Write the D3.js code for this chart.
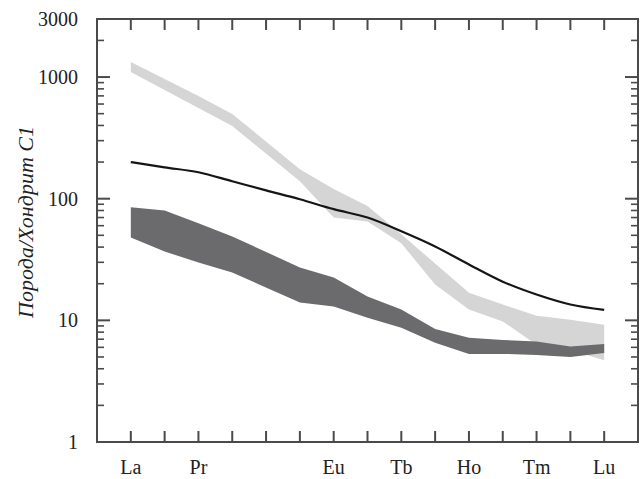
<!DOCTYPE html>
<html>
<head>
<meta charset="utf-8">
<script src="https://cdn.jsdelivr.net/npm/d3@7"></script>
<style>
  body { margin: 0; background: #fff; }
  svg text { font-family: "Liberation Serif", "DejaVu Serif", serif; fill: #222; }
</style>
</head>
<body>
<div id="chart"></div>
<script>
//  data
var elements = ["La", "Ce", "Pr", "Nd", "Pm", "Sm", "Eu", "Gd", "Tb", "Dy", "Ho", "Er", "Tm", "Yb", "Lu"];
var labeled = ["La", "Pr", "Eu", "Tb", "Ho", "Tm", "Lu"];
var yTicks = [1, 10, 100, 1000, 3000];

// light band (null = not analysed)
var lightHi = [1331, 964, 699, 497, null, 175, 120, 87, 51, 29.3, 16.9, 13.5, 10.9, 10.1, 9.2];
var lightLo = [1102, 783, 556, 395, null, 139, 70, 65, 43, 19.7, 12.3, 9.8, 6.3, 5.7, 4.7];
// dark band
var darkHi = [85, 80, 62.7, 49, null, 27.2, 22.5, 15.7, 12.3, 8.5, 7.2, 6.9, 6.7, 6.1, 6.4];
var darkLo = [48, 36.8, 29.9, 24.7, null, 14.0, 13.0, 10.5, 8.7, 6.55, 5.3, 5.3, 5.2, 5.0, 5.4];
// black curve
var lineVals = [200, 181, 165, 139, 117, 99, 82, 70, 54, 40.5, 28.8, 20.8, 16.3, 13.5, 12.2];

//  draw
function draw() {
  const w = 640, h = 479;
  const margin = {top: 19, right: 2, bottom: 37, left: 97};
  const axisCol = "#4a4a4a";

  const svg = d3.select("#chart").append("svg").attr("width", w).attr("height", h);

  const x = d3.scalePoint().domain(elements).range([margin.left, w - margin.right]).padding(1);
  const y = d3.scaleLog().domain([1, 3000]).range([h - margin.bottom, margin.top]);

  const band = (hi, lo) => elements.map((e, i) => ({e: e, hi: hi[i], lo: lo[i]})).filter(d => d.hi != null);

  const area = d3.area().x(d => x(d.e)).y0(d => y(d.lo)).y1(d => y(d.hi));

  svg.append("path").datum(band(lightHi, lightLo))
    .attr("d", area).attr("fill", "#d5d5d5");

  svg.append("path").datum(band(darkHi, darkLo))
    .attr("d", area).attr("fill", "#6b6b6d");

  const line = d3.line().x((d, i) => x(elements[i])).y(d => y(d)).curve(d3.curveMonotoneX);
  svg.append("path").datum(lineVals)
    .attr("d", line).attr("fill", "none").attr("stroke", "#151515").attr("stroke-width", 2.2);

  // frame
  svg.append("rect")
    .attr("x", margin.left).attr("y", margin.top)
    .attr("width", w - margin.left - margin.right).attr("height", h - margin.top - margin.bottom)
    .attr("fill", "none").attr("stroke", axisCol).attr("stroke-width", 2);

  // x ticks, top and bottom, pointing inward
  const xt = svg.append("g").attr("stroke", axisCol).attr("stroke-width", 2);
  elements.forEach(e => {
    xt.append("line").attr("x1", x(e)).attr("x2", x(e)).attr("y1", margin.top).attr("y2", margin.top + 11);
    xt.append("line").attr("x1", x(e)).attr("x2", x(e)).attr("y1", h - margin.bottom).attr("y2", h - margin.bottom - 11);
  });

  svg.append("g").selectAll("text").data(labeled).enter()
    .append("text")
    .attr("x", d => x(d))
    .attr("y", 474)
    .attr("text-anchor", "middle")
    .style("font-size", "20px")
    .text(d => d);

  // y ticks, major and minor, both sides
  const minor = [];
  [1, 10, 100, 1000].forEach(p => { for (let k = 2; k <= 9; k++) if (p * k < 3000) minor.push(p * k); });
  const yt = svg.append("g").attr("stroke", axisCol).attr("stroke-width", 2);
  const xl = margin.left, xr = w - margin.right;
  [1, 10, 100, 1000].forEach(v => {
    yt.append("line").attr("x1", xl).attr("x2", xl + 13).attr("y1", y(v)).attr("y2", y(v));
    yt.append("line").attr("x1", xr).attr("x2", xr - 13).attr("y1", y(v)).attr("y2", y(v));
  });
  minor.forEach(v => {
    yt.append("line").attr("x1", xl).attr("x2", xl + 7).attr("y1", y(v)).attr("y2", y(v)).attr("stroke-width", 1.6);
    yt.append("line").attr("x1", xr).attr("x2", xr - 7).attr("y1", y(v)).attr("y2", y(v)).attr("stroke-width", 1.6);
  });

  svg.append("g").selectAll("text").data(yTicks).enter()
    .append("text")
    .attr("x", 78)
    .attr("y", d => y(d) + 7)
    .attr("text-anchor", "end")
    .style("font-size", "20px")
    .text(d => d);

  svg.append("text")
    .attr("transform", "translate(33,222) rotate(-90)")
    .attr("text-anchor", "middle")
    .style("font-family", "'Liberation Serif', 'DejaVu Serif', serif")
    .style("font-size", "22px")
    .style("font-style", "italic")
    .text("Порода/Хондрит C1");

  return svg.node();
}

draw();
</script>
</body>
</html>
